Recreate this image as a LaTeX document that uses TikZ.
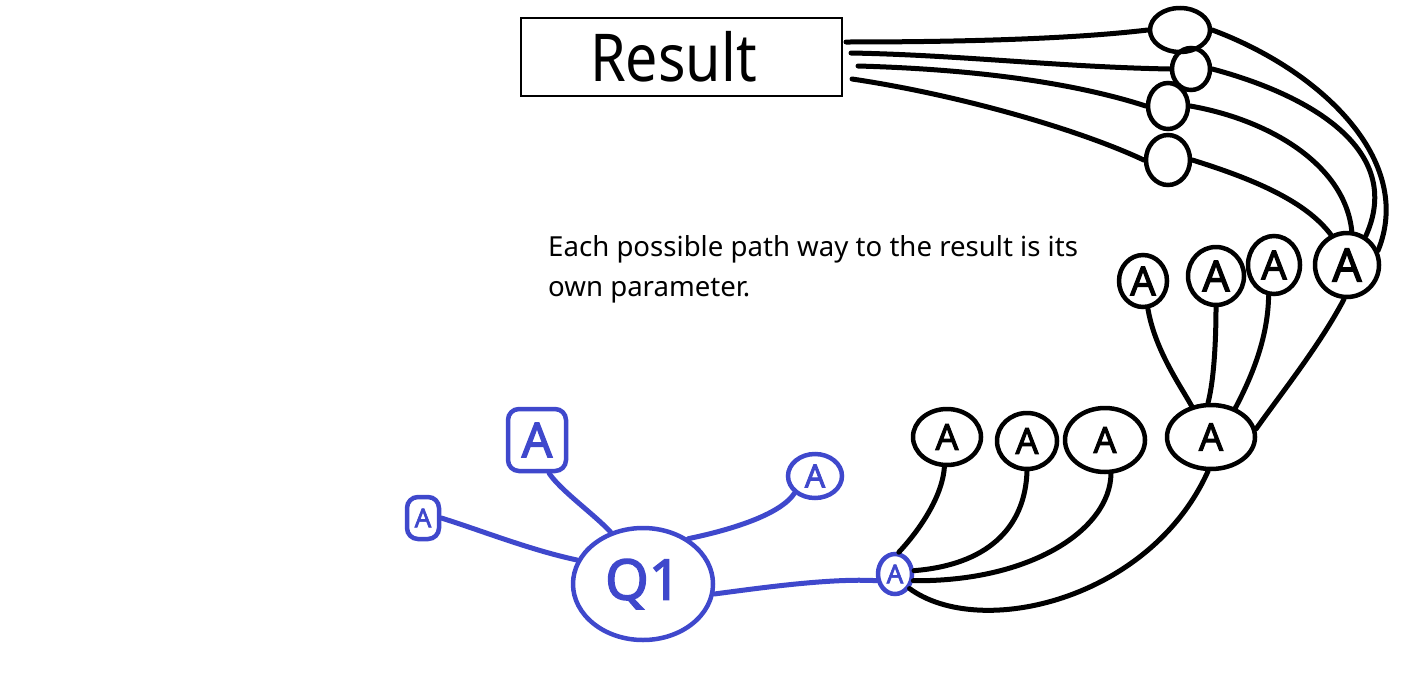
\documentclass[tikz,border=0pt]{standalone}
\usepackage{fontspec}
\usepackage{graphicx}
\setmainfont{Noto Sans}
\newfontfamily\penfont[FakeBold=2.5]{Noto Sans}
\usetikzlibrary{shapes.geometric}
\definecolor{penblue}{RGB}{63,72,204}
\begin{document}
\begin{tikzpicture}[x=1pt,y=-1pt,
  wire/.style={line width=5pt, line cap=round, line join=round},
  bwire/.style={wire, draw=penblue},
  blob/.style 2 args={ellipse, draw, line width=4.5pt, minimum width=#1, minimum height=#2, inner sep=0pt},
  bblob/.style 2 args={blob={#1}{#2}, draw=penblue, text=penblue},
  bsq/.style 2 args={rectangle, rounded corners=11pt, draw=penblue, text=penblue, line width=4.5pt, minimum width=#1, minimum height=#2, inner sep=0pt},
  fs/.style={font=\penfont\fontsize{#1}{#1}\selectfont}
]
\useasboundingbox (0,0) rectangle (1416,672);

% Result box and caption
\node[draw, line width=2pt, minimum width=321, minimum height=78, inner sep=0pt, font=\fontsize{66}{66}\selectfont] (res) at (681.5,57) {\hspace*{-16pt}\scalebox{0.87}[1]{Result}};
\node[anchor=base west, align=left, inner sep=0pt, font=\fontsize{27.6}{39.5}\selectfont] (cap) at (548,296) {Each possible path way to the result is its\\own parameter.};

% gates
\node[blob={60}{44}] (g1) at (1180,30) {};
\node[blob={38}{42}] (g2) at (1191,69) {};
\node[blob={40}{46}] (g3) at (1168,106) {};
\node[blob={44}{50}] (g4) at (1168,160) {};

% upper A row
\node[blob={48}{52}, fs=40] (a1) at (1143,281) {A};
\node[blob={56}{58}, fs=43] (a2) at (1216,276) {A};
\node[blob={52}{58}, fs=40] (a3) at (1274,265) {A};
\node[blob={64}{64}, fs=46] (a4) at (1347,265) {A};

% lower A row
\node[blob={68}{56}, fs=36] (b1) at (947,437) {A};
\node[blob={60}{56}, fs=36] (b2) at (1027,441) {A};
\node[blob={80}{64}, fs=36] (b3) at (1105,440) {A};
\node[blob={88}{64}, fs=38] (b4) at (1211,437) {A};

% blue cluster
\node[bblob={34}{40}, fs=26] (hub) at (895,574) {A};
\node[bblob={140}{112}, fs=56] (q1) at (643,584) {Q1};
\node[bsq={58}{62}, fs=48] (c1) at (537,440) {A};
\node[bsq={32}{42}, fs=26] (c2) at (423,518) {A};
\node[bblob={54}{44}, fs=32] (c3) at (815,476) {A};

% result lines
\coordinate (r1) at (846,42);
\coordinate (r2) at (851,53);
\coordinate (r3) at (858,66);
\coordinate (r4) at (852,79);
\draw[wire] (r1) .. controls (980,42) and (1080,38) .. (g1.west);
\draw[wire] (r2) .. controls (960,55) and (1060,67) .. (g2.west);
\draw[wire] (r3) .. controls (1000,70) and (1090,88) .. (g3.west);
\draw[wire] (r4) .. controls (960,95) and (1080,130) .. (g4.west);

% gates to big A
\draw[wire] (g1.east) .. controls (1320,70) and (1415,160) .. (a4.25);
\draw[wire] (g2.east) .. controls (1310,95) and (1405,150) .. (a4.57);
\draw[wire] (g3.east) .. controls (1270,120) and (1345,165) .. (a4.82);
\draw[wire] (g4.east) .. controls (1250,178) and (1305,200) .. (a4.118);

% upper row to b4
\draw[wire] (a1.-80) .. controls (1155,350) and (1180,385) .. (b4.122);
\draw[wire] (a2.south) .. controls (1216,340) and (1214,380) .. (b4.95);
\draw[wire] (a3.-100) .. controls (1268,340) and (1250,380) .. (b4.50);
\draw[wire] (a4.-95) .. controls (1320,345) and (1280,395) .. (b4.10);

% lower row to hub
\draw[wire] (b1.-95) .. controls (942,500) and (915,535) .. (hub.80);
\draw[wire] (b2.south) .. controls (1025,530) and (985,565) .. (hub.10);
\draw[wire] (b3.-80) .. controls (1110,530) and (1030,582) .. (hub.-20);
\draw[wire] (b4.-95) .. controls (1150,600) and (980,640) .. (hub.-45);

% blue connectors
\draw[bwire] (c2.east) .. controls (480,530) and (530,550) .. (q1.160);
\draw[bwire] (c1.-70) .. controls (560,490) and (595,515) .. (q1.122);
\draw[bwire] (c3.220) .. controls (780,515) and (730,530) .. (q1.45);
\draw[bwire] (q1.-8) .. controls (760,588) and (830,578) .. (hub.200);
\end{tikzpicture}
\end{document}
